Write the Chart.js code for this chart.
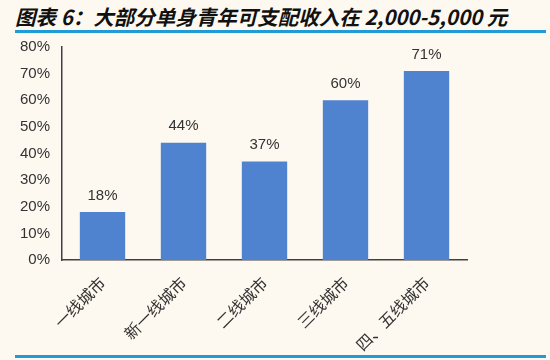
<!DOCTYPE html>
<html>
<head>
<meta charset="utf-8">
<script src="https://cdn.jsdelivr.net/npm/chart.js@4/dist/chart.umd.min.js"></script>
<style>
    body { margin: 0; background: #fdf9f0; }
    #wrap { position: relative; width: 550px; height: 360px; background: #fdf9f0; overflow: hidden; }
    #title {
        position: absolute; left: 15px; top: 1px;
        font: italic bold 20.5px "Noto Sans CJK SC", "Liberation Sans", sans-serif;
        color: #111; white-space: nowrap;
    }
    .rule { position: absolute; left: 15px; width: 531px; height: 3px; background: #1f9bd7; }
    #chart { position: absolute; left: 0; top: 0; }
</style>
</head>
<body>
<div id="wrap">
    <div id="title">图表 6：大部分单身青年可支配收入在 2,000-5,000 元</div>
    <div class="rule" style="top: 30px;"></div>
    <div class="rule" style="top: 355px;"></div>
    <canvas id="chart" width="550" height="360"></canvas>
</div>
<script>
const categories = ["一线城市", "新一线城市", "二线城市", "三线城市", "四、五线城市"];
const shares = [18, 44, 37, 60, 71];
const yTicks = [0, 10, 20, 30, 40, 50, 60, 70, 80];

// labels above each bar
const barLabels = {
    id: "barLabels",
    afterDatasetsDraw(chart) {
        let ctx = chart.ctx;
        ctx.save();
        ctx.font = '15px "Liberation Sans", Arial, sans-serif';
        ctx.fillStyle = "#333";
        ctx.textAlign = "center";
        ctx.textBaseline = "bottom";
        chart.getDatasetMeta(0).data.forEach(function (bar, i) {
            ctx.fillText(shares[i] + "%", bar.x, bar.y - 9);
        });
        ctx.restore();
    }
};

new Chart(document.getElementById("chart").getContext("2d"), {
    type: "bar",
    data: {
        labels: categories,
        datasets: [{
            data: shares,
            backgroundColor: "#4f82cf",
            categoryPercentage: 1,
            barPercentage: 0.56
        }]
    },
    options: {
        responsive: false,
        animation: false,
        layout: { padding: { left: 14, right: 83, top: 47, bottom: 0 } },
        plugins: { legend: { display: false }, tooltip: { enabled: false } },
        scales: {
            x: {
                grid: { display: false, drawTicks: false },
                border: { color: "#404040", width: 1.5 },
                ticks: {
                    color: "#333",
                    font: { family: '"Noto Sans CJK SC", sans-serif', size: 16 },
                    minRotation: 45, maxRotation: 45, padding: 13
                },
                afterFit: function (scale) { scale.height = 100; }
            },
            y: {
                min: 0, max: 80,
                afterBuildTicks: function (scale) {
                    scale.ticks = yTicks.map(function (v) { return { value: v }; });
                },
                grid: { display: false, drawTicks: false },
                border: { color: "#404040", width: 1.5 },
                ticks: {
                    color: "#333",
                    font: { family: '"Liberation Sans", Arial, sans-serif', size: 15 },
                    padding: 12,
                    callback: function (v) { return v + "%"; }
                },
                afterFit: function (scale) { scale.width = 48; }
            }
        }
    },
    plugins: [barLabels]
});
</script>
</body>
</html>
